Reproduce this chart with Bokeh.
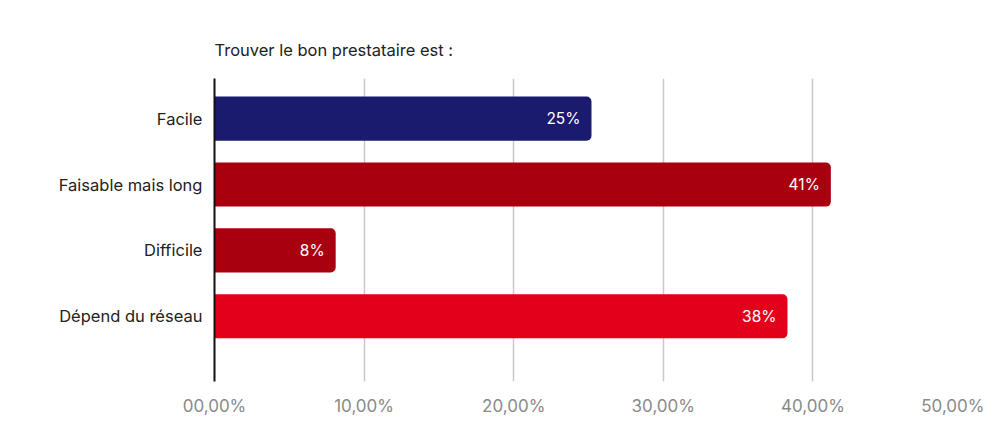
from bokeh.plotting import figure
from bokeh.models import ColumnDataSource, Range1d, FixedTicker
from bokeh.embed import file_html
from bokeh.resources import INLINE
from bokeh.core.properties import value

categories = ["Facile", "Faisable mais long", "Difficile", "Dépend du réseau"]
values = [25.2, 41.2, 8.1, 38.3]
value_labels = ["25%", "41%", "8%", "38%"]
colors = ["#1a1a6e", "#a8000f", "#a8000f", "#e2001a"]
tick_values = [0, 10, 20, 30, 40, 50]
tick_labels = ["00,00%", "10,00%", "20,00%", "30,00%", "40,00%", "50,00%"]
title_text = "Trouver le bon prestataire est :"

FONT = "Inter"
ypos = list(range(len(categories)))
src = ColumnDataSource(dict(y=ypos, v=values, lab=value_labels, c=colors, cat=categories))

p = figure(width=984, height=418, output_backend="svg", toolbar_location=None,
           x_range=Range1d(0, 50), y_range=Range1d(3.99, -0.61),
           min_border_left=214, min_border_right=22, min_border_top=78, min_border_bottom=36)
p.outline_line_color = None
p.background_fill_color = "white"
p.border_fill_color = "white"

p.title.text = title_text
p.title.text_font = FONT
p.title.text_font_size = "16.5px"
p.title.text_font_style = "normal"
p.title.text_color = "#222222"
p.title.align = "left"
p.title.standoff = 37

p.hbar(y="y", right="v", left=0, height=0.67, fill_color="c", line_color=None,
       border_radius=(0, 5, 5, 0), source=src)
p.text(x="v", y="y", text="lab", x_offset=-11, text_align="right", text_baseline="middle",
       text_color="white", text_font=value(FONT), text_font_size="15.5px", source=src)

p.xaxis.ticker = FixedTicker(ticks=tick_values)
p.xaxis.major_label_overrides = {t: l for t, l in zip(tick_values, tick_labels)}
p.xaxis.axis_line_color = None
p.xaxis.major_tick_line_color = None
p.xaxis.minor_tick_line_color = None
p.xaxis.major_tick_out = 0
p.xaxis.major_tick_in = 0
p.xaxis.major_label_standoff = 14
p.xaxis.major_label_text_font = FONT
p.xaxis.major_label_text_font_size = "17px"
p.xaxis.major_label_text_color = "#8a8a8a"

p.yaxis.ticker = FixedTicker(ticks=ypos)
p.yaxis.major_label_overrides = {i: c for i, c in zip(ypos, categories)}
p.yaxis.axis_line_color = "#111111"
p.yaxis.axis_line_width = 2
p.yaxis.major_tick_line_color = None
p.yaxis.minor_tick_line_color = None
p.yaxis.major_label_standoff = 6
p.yaxis.major_label_text_font = FONT
p.yaxis.major_label_text_font_size = "16.5px"
p.yaxis.major_label_text_color = "#222222"

p.xgrid.ticker = FixedTicker(ticks=tick_values[1:])
p.xgrid.grid_line_color = "#c8c8c8"
p.xgrid.grid_line_width = 1.5
p.ygrid.grid_line_color = None

open("out.html", "w").write(file_html(p, INLINE))
